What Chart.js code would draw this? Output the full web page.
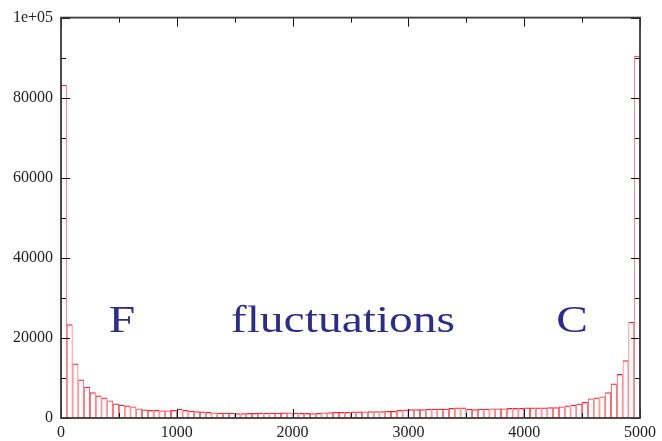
<!DOCTYPE html>
<html>
<head>
<meta charset="utf-8">
<script src="https://cdn.jsdelivr.net/npm/chart.js@4/dist/chart.umd.min.js"></script>
<style>
  html, body { margin: 0; padding: 0; background: #ffffff; }
  #wrap { width: 662px; height: 441px; position: relative; }
</style>
</head>
<body>
<div id="wrap"><canvas id="c"></canvas></div>
<script>
// ---- data ----
const binWidth = 50;
const counts = [
  83200, 23400, 13600, 9600, 7800, 6400, 5600, 5100, 4400, 3600,
  3300, 3100, 2900, 2400, 2100, 2000, 2000, 1900, 1900, 2000,
  2300, 2000, 1800, 1700, 1600, 1500, 1400, 1300, 1300, 1300,
  1200, 1200, 1250, 1250, 1300, 1300, 1300, 1300, 1350, 1400,
  1300, 1250, 1250, 1200, 1250, 1400, 1450, 1500, 1500, 1500,
  1600, 1600, 1650, 1700, 1700, 1700, 1750, 1750, 2000, 2100,
  2200, 2200, 2200, 2300, 2300, 2300, 2300, 2500, 2600, 2600,
  2300, 2200, 2300, 2300, 2400, 2400, 2400, 2500, 2500, 2500,
  2600, 2600, 2600, 2600, 2700, 2700, 2900, 3100, 3300, 3600,
  4000, 4900, 5100, 5400, 6400, 8600, 11000, 14400, 24000, 90500
];
const xTickValues = [0, 1000, 2000, 3000, 4000, 5000];
const xMinorValues = [500, 1500, 2500, 3500, 4500];
const yTickValues = [0, 20000, 40000, 60000, 80000, 100000];
const yMinorValues = [10000, 30000, 50000, 70000, 90000];
const annotations = [
  { text: 'F', x: 527, y: 21500 },
  { text: 'fluctuations', x: 2435, y: 21500 },
  { text: 'C', x: 4413, y: 21500 }
];

const points = counts.map((v, i) => ({ x: i * binWidth + binWidth / 2, y: v }));

const framePlugin = {
  id: 'frame',
  afterDatasetsDraw(chart) {
    const { ctx, chartArea: { left, right, top, bottom }, scales: { x, y } } = chart;
    ctx.save();
    ctx.strokeStyle = '#111';
    ctx.lineWidth = 1;
    const majorLen = 9, minorLen = 5;
    const vTick = (v, len) => {
      const px = Math.round(x.getPixelForValue(v)) + 0.5;
      ctx.beginPath();
      ctx.moveTo(px, bottom); ctx.lineTo(px, bottom - len);
      ctx.moveTo(px, top); ctx.lineTo(px, top + len);
      ctx.stroke();
    };
    const hTick = (v, len) => {
      const py = Math.round(y.getPixelForValue(v)) + 0.5;
      ctx.beginPath();
      ctx.moveTo(left, py); ctx.lineTo(left + len, py);
      ctx.moveTo(right, py); ctx.lineTo(right - len, py);
      ctx.stroke();
    };
    xTickValues.forEach(v => vTick(v, majorLen));
    xMinorValues.forEach(v => vTick(v, minorLen));
    yTickValues.forEach(v => hTick(v, majorLen));
    yMinorValues.forEach(v => hTick(v, minorLen));
    ctx.strokeStyle = '#3a3a3a';
    ctx.lineWidth = 1.8;
    ctx.strokeRect(left, top, right - left, bottom - top);
    ctx.restore();
  },
  afterDraw(chart) {
    const { ctx, scales: { x, y } } = chart;
    ctx.save();
    ctx.fillStyle = '#2b2d8c';
    ctx.font = '38px "Liberation Serif", "DejaVu Serif", serif';
    ctx.textAlign = 'center';
    ctx.textBaseline = 'alphabetic';
    annotations.forEach(a => {
      ctx.save();
      ctx.translate(x.getPixelForValue(a.x), y.getPixelForValue(a.y));
      ctx.scale(1.25, 1);
      ctx.fillText(a.text, 0, 0);
      ctx.restore();
    });
    ctx.restore();
  }
};

new Chart(document.getElementById('c'), {
  type: 'bar',
  data: {
    datasets: [{
      data: points,
      backgroundColor: 'rgba(255,255,255,0)',
      borderColor: 'rgb(255,30,40)',
      borderWidth: { top: 1.2, left: 0.7, right: 0.7, bottom: 0 },
      borderSkipped: false,
      barPercentage: 1,
      categoryPercentage: 1,
      inflateAmount: 0
    }]
  },
  options: {
    responsive: true,
    maintainAspectRatio: false,
    animation: false,
    layout: { padding: { top: 14, right: 22, left: 0, bottom: 0 } },
    plugins: { legend: { display: false }, tooltip: { enabled: false } },
    scales: {
      x: {
        type: 'linear',
        min: 0, max: 5000,
        offset: false,
        grid: { display: false, drawTicks: false },
        border: { display: false },
        afterFit(s) { s.height = 23; },
        afterBuildTicks(s) { s.ticks = xTickValues.map(v => ({ value: v })); },
        ticks: {
          autoSkip: false,
          maxRotation: 0,
          padding: 5,
          color: '#222',
          font: { family: '"Liberation Serif", serif', size: 16 },
          callback: v => String(v)
        }
      },
      y: {
        min: 0, max: 100000,
        grid: { display: false, drawTicks: false },
        border: { display: false },
        afterFit(s) { s.width = 61; },
        afterBuildTicks(s) { s.ticks = yTickValues.map(v => ({ value: v })); },
        ticks: {
          autoSkip: false,
          padding: 8,
          color: '#222',
          font: { family: '"Liberation Serif", serif', size: 16 },
          callback: v => v === 100000 ? '1e+05' : String(v)
        }
      }
    }
  },
  plugins: [framePlugin]
});
</script>
</body>
</html>
